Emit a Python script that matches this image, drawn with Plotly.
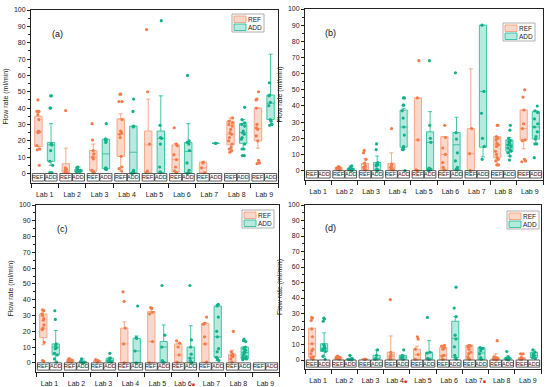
import plotly.graph_objects as go

# ---------------- data ----------------
lab_centers = [1, 2, 3, 4, 5, 6, 7, 8, 9]
lab_edges = [0.5, 1.5, 2.5, 3.5, 4.5, 5.5, 6.5, 7.5, 8.5, 9.5]
y_ticks = [0, 10, 20, 30, 40, 50, 60, 70, 80, 90, 100]
y_minor = [5, 15, 25, 35, 45, 55, 65, 75, 85, 95]
groups = ["REF", "ADD"]

RM = "<span style='color:#e3262b;font-size:5px'>■</span>"
labels_plain = ["Lab 1", "Lab 2", "Lab 3", "Lab 4", "Lab 5", "Lab 6", "Lab 7", "Lab 8", "Lab 9"]
labels_c = ["Lab 1", "Lab 2", "Lab 3", "Lab 4", "Lab 5", "Lab 6" + RM, "Lab 7", "Lab 8", "Lab 9"]
labels_d = ["Lab 1", "Lab 2", "Lab 3", "Lab 4" + RM, "Lab 5", "Lab 6", "Lab 7" + RM, "Lab 8", "Lab 9"]

# stats per lab: (lower whisker, q1, median, q3, upper whisker)
a_ref_stats = [(14.5, 16.5, 25.5, 35, 38), (0, 0.5, 2, 6, 15.5), (0.5, 1.5, 10, 14, 18),
               (1.5, 10.5, 24, 33.5, 36.5), (0, 0.5, 17.5, 26, 45.5), (0, 1, 8.5, 17.5, 18.5),
               (0, 0.5, 3.5, 7, 7), (13, 17.5, 24, 32, 34), (15.5, 20, 27.5, 40, 40)]
a_ref_pts = [[45, 38, 38, 36, 33, 26, 25.5, 25, 17, 15, 14.5, 5], [38.5, 3.5, 3, 2.5, 2, 1, 0.5],
             [30.5, 20.5, 14, 12, 10, 9, 2, 1.5, 1, 0.5, 0.5],
             [48.5, 48.5, 44, 44, 33, 26, 25, 24, 22, 10.5, 4, 3, 1.5], [88, 50, 18, 1.5, 0.5],
             [28, 18, 17, 11.5, 8.5, 4, 1.5, 0.5], [7, 6.5, 3.5, 0.5],
             [34, 32, 31, 30, 29, 27, 25, 24, 22, 20, 18, 16, 15, 14, 13],
             [50, 45.5, 45, 40, 30, 28, 27, 23, 20, 8, 6.5, 6]]
a_add_stats = [(5, 7.5, 17.5, 19, 30.5), (0.5, 1, 1.5, 2.5, 4), (2.5, 3, 12, 21, 21),
               (0, 0.5, 13, 29, 29), (0, 0.5, 21.5, 26, 47.5), (0, 0.5, 13.5, 19, 30.5),
               (18.5, 18.5, 18.5, 18.5, 18.5), (15, 18.5, 25, 30.5, 33), (29.5, 33, 43, 48, 73)]
a_add_pts = [[47.5, 47.5, 40, 40, 18, 18, 17.5, 14, 7.5, 5, 0.5, 0.5], [4, 3.5, 2, 2, 1.5, 1, 1],
             [30.5, 21, 21, 20.5, 20, 19, 3.5, 3, 3, 3, 2.5, 2.5],
             [45.5, 38, 29, 28.5, 2, 1, 1, 0.5, 0.5, 0], [93.5, 29.5, 22, 21.5, 18, 4, 1, 0.5],
             [60, 20, 19, 18, 14, 6.5, 2, 0.5, 0], [18.5, 18.5],
             [40.5, 33, 31, 30, 29, 26, 25, 24, 22, 21, 18, 15, 15, 11, 11],
             [55.5, 48, 47.5, 43.5, 41.5, 33, 32, 30, 29.5]]

b_ref_stats = [None, (0, 0.5, 1, 2, 2.5), (0, 0.5, 2, 4.5, 7.5), (0, 0.5, 2, 4.5, 11),
               (0, 0, 19, 45, 45), (0, 0.5, 10, 21, 21), (0, 0, 10.5, 26, 63),
               (3.5, 8, 16, 21, 21), (13.5, 19, 26, 37.5, 37.5)]
b_ref_pts = [[], [2.5, 2, 1.5, 1.5, 1, 1, 0.5], [12.5, 11, 7, 4.5, 3, 2, 1, 0.5],
             [26, 4, 3, 2.5, 2, 1, 0.5], [68, 45, 19, 0.5, 0], [28, 20.5, 14, 10, 5, 2, 0.5],
             [26, 10.5, 0], [28, 28, 21, 20, 19, 17, 16, 15, 12, 10, 8, 7, 6, 3.5, 3.5],
             [50, 45.5, 37.5, 29, 26, 19, 18.5, 7, 6, 5.5]]
b_add_stats = [None, (0, 0.5, 1, 1.5, 3), (0, 0.5, 3.5, 5, 9), (13, 14.5, 27, 37.5, 38.5),
               (0, 0.5, 17.5, 24, 36.5), (0, 0.5, 16, 23.5, 33), (8.5, 14.5, 49, 90, 90),
               (9, 12, 16, 19, 20.5), (16.5, 19.5, 27, 36.5, 37)]
b_add_pts = [[], [3, 2, 1, 1, 0.5, 0], [16.5, 13, 5, 4, 3.5, 3, 1, 0.5, 0],
             [45, 45, 40.5, 40.5, 37, 32.5, 27, 22, 15, 14, 13, 13, 0],
             [68, 28, 20, 17.5, 1.5, 1, 0.5, 0], [60.5, 23.5, 19.5, 11, 6, 2, 1, 0.5],
             [90, 49, 35.5, 20, 15, 7],
             [28, 25, 20, 18.5, 18, 17, 16, 16, 15, 14, 13, 12, 11, 9, 6.5],
             [40, 37, 36, 32, 29, 27, 24, 21, 19.5, 16.5, 16.5, 8]]

c_ref_stats = [(11.5, 16, 21.5, 31, 33.5), (0.5, 0.5, 1.5, 2, 2.5), (0.5, 0.5, 1, 1.5, 2),
               (0, 0, 12, 22, 26), (0, 0, 13.5, 32.5, 35), (0, 0.5, 5, 12, 12.5),
               (0, 0.5, 12, 25, 25.5), (0.5, 0.5, 4.5, 5.5, 8), None]
c_ref_pts = [[33.5, 33, 31, 30, 28, 27, 24, 22, 21, 13, 1.5, 1], [2.5, 2.5, 2, 1.5, 1.5, 1, 0.5],
             [2, 1.5, 1.5, 1, 0.5], [45, 39, 22, 12, 0], [35, 34.5, 32, 31, 13.5, 0],
             [14, 12.5, 10, 5, 0.5], [29, 25, 24.5, 16.5, 12, 0.5],
             [20, 7, 5.5, 5, 4.5, 4, 2.5, 0.5], []]
c_add_stats = [(0.5, 5, 10, 12, 20.5), (0, 0, 0.5, 1, 2.5), (0.5, 0.5, 1.5, 3, 3.5),
               (0, 0, 7.5, 15.5, 17), (0, 0.5, 10, 13.5, 24), (0, 0.5, 3, 10, 23.5),
               (1.5, 3.5, 16.5, 36, 37), (2, 2.5, 6.5, 10, 10), None]
c_add_pts = [[33, 27.5, 12, 11, 9.5, 9, 6, 5, 2.5, 0.5], [2.5, 1, 0.5, 0.5, 0],
             [6, 3, 2.5, 2, 1.5, 1, 0.5], [36, 16, 15.5, 7.5, 0], [49, 17.5, 10, 1.5, 0.5],
             [49, 14.5, 10, 5.5, 3, 1.5, 0.5, 0],
             [37, 36.5, 36, 29, 20, 16.5, 9, 7, 3.5, 3, 2, 1.5],
             [15, 14, 13.5, 10, 9, 8, 7, 6.5, 6, 5, 4, 3.5, 3, 2.5, 2], []]

d_ref_stats = [(0.5, 2, 10.5, 20.5, 20.5), (0.5, 0.5, 1.5, 2, 2.5), (0.5, 0.5, 0.5, 0.5, 0.5),
               (0.5, 0.5, 2.5, 5, 15.5), (0, 0.5, 3.5, 7, 9), (0, 0.5, 3, 8, 8.5),
               (0, 0.5, 5, 9.5, 9.5), (0, 0, 1, 1.5, 4), (0.5, 0.5, 1, 1.5, 4)]
d_ref_pts = [[27.5, 27, 25.5, 20, 15, 10.5, 7, 6, 4, 2, 1.5, 0.5], [2.5, 2, 2, 1.5, 1, 1, 0.5],
             [0.5, 0.5, 0.5], [39, 5, 3.5, 2.5, 2, 1, 0.5], [15, 13.5, 7, 3.5, 0.5],
             [9.5, 9, 8, 7, 3, 2.5, 0.5], [9.5, 9, 9, 8.5, 7, 5, 4, 2, 1, 0.5],
             [12.5, 2, 1.5, 1, 0.5, 0], [4, 4, 1.5, 1, 0.5, 0.5]]
d_add_stats = [(2, 5.5, 7.5, 10.5, 17.5), (0, 0, 0.5, 1, 3), (0, 0.5, 1, 3, 6.5),
               (0, 0.5, 1.5, 3, 3), (0, 0.5, 1, 5, 12.5), (0.5, 1.5, 14, 25, 28),
               (0, 0.5, 4.5, 8, 8), (0, 0.5, 1, 1.5, 2.5), (1, 1.5, 3, 5, 6.5)]
d_add_pts = [[27, 26.5, 25, 10, 9, 8, 7.5, 7, 6.5, 5.5, 2.5, 0.5], [3, 1, 0.5, 0.5, 0],
             [6.5, 3, 1, 0.5], [6.5, 3, 2.5, 1.5, 1, 0.5], [27.5, 5, 4.5, 1, 0.5],
             [47, 33.5, 28, 16, 13.5, 8.5, 3, 1.5, 0.5], [8, 7.5, 7.5, 6, 4, 1.5, 0.5],
             [5.5, 2, 1.5, 1, 1, 0.5, 0.5, 0], [6.5, 5, 4, 3, 2.5, 1.5, 1]]

# ---------------- styling ----------------
W, H = 550, 387
FONT = "Arial, Liberation Sans, sans-serif"
STYLE = {
    "REF": dict(off=-0.23, fill="rgba(249,160,128,0.42)", line="#f4a07e", pt="#f47b4a"),
    "ADD": dict(off=0.23, fill="rgba(32,190,155,0.33)", line="#2dbf9c", pt="#14b08b"),
}
YMIN = -5.8


def px_x(v):
    return v / W


def px_y(v):
    return 1 - v / H


panels = [
    dict(name="(a)", ref=(a_ref_stats, a_ref_pts), add=(a_add_stats, a_add_pts), tt=labels_plain,
         box=(31, 10, 278, 183), leg=(232, 14)),
    dict(name="(b)", ref=(b_ref_stats, b_ref_pts), add=(b_add_stats, b_add_pts), tt=labels_plain,
         box=(305, 9, 543, 180), leg=(503, 23)),
    dict(name="(c)", ref=(c_ref_stats, c_ref_pts), add=(c_add_stats, c_add_pts), tt=labels_c,
         box=(36, 205, 279, 372), leg=(242, 210)),
    dict(name="(d)", ref=(d_ref_stats, d_ref_pts), add=(d_add_stats, d_add_pts), tt=labels_d,
         box=(305, 205, 541, 369), leg=(507, 211)),
]

fig = go.Figure()
layout = dict(width=W, height=H, margin=dict(l=0, r=0, t=0, b=0, autoexpand=False),
              paper_bgcolor="white", plot_bgcolor="white", boxmode="overlay", showlegend=False,
              font=dict(family=FONT, size=7, color="#222"), shapes=[], annotations=[])

for i, p in enumerate(panels, start=1):
    sfx = "" if i == 1 else str(i)
    xa, ya = "x" + sfx, "y" + sfx
    x0p, y0p, x1p, y1p = p["box"]
    for grp, (stats, pts) in zip(groups, [p["ref"], p["add"]]):
        st = STYLE[grp]
        xs, lo, q1, md, q3, hi = [], [], [], [], [], []
        px, py = [], []
        for k, c in enumerate(lab_centers):
            pos = c + st["off"]
            if stats[k] is not None:
                xs.append(pos)
                lo.append(stats[k][0]); q1.append(stats[k][1]); md.append(stats[k][2])
                q3.append(stats[k][3]); hi.append(stats[k][4])
            for v in pts[k]:
                px.append(pos); py.append(v)
        fig.add_trace(go.Box(x=xs, q1=q1, median=md, q3=q3, lowerfence=lo, upperfence=hi,
                             name=grp, xaxis=xa, yaxis=ya, width=0.27,
                             whiskerwidth=0.55, fillcolor=st["fill"],
                             line=dict(color=st["line"], width=0.9), boxpoints=False))
        fig.add_trace(go.Box(x=px, y=py, name=grp, xaxis=xa, yaxis=ya, width=0.27,
                             boxpoints="all", jitter=0.55, pointpos=0,
                             fillcolor="rgba(0,0,0,0)", line=dict(color="rgba(0,0,0,0)", width=0),
                             marker=dict(color=st["pt"], size=3.2)))
        # REF / ADD table cells under each box
        for c in lab_centers:
            pos = c + st["off"]
            layout["shapes"].append(dict(type="rect", xref=xa, yref=ya, x0=pos - 0.22, x1=pos + 0.22,
                                         y0=YMIN + 1.2, y1=0, line=dict(color="#333", width=0.8)))
            layout["annotations"].append(dict(xref=xa, yref=ya, x=pos, y=(YMIN + 1.2) / 2, text=grp,
                                              showarrow=False, font=dict(size=5.5, color="#222")))

    layout["xaxis" + sfx] = dict(domain=[px_x(x0p), px_x(x1p)], anchor=ya, range=[0.5, 9.5],
                                 automargin=False, tickmode="array",
                                 tickvals=lab_centers, ticktext=p["tt"], ticks="outside", ticklen=5,
                                 tickcolor="rgba(0,0,0,0)", showline=True, linecolor="#222",
                                 linewidth=1, mirror=True, showgrid=False, zeroline=False,
                                 tickfont=dict(size=7, color="#222"),
                                 minor=dict(tickmode="array", tickvals=lab_edges, ticks="outside",
                                            ticklen=4, tickcolor="#222", showgrid=False))
    layout["yaxis" + sfx] = dict(domain=[px_y(y1p), px_y(y0p)], anchor=xa, range=[YMIN, 100],
                                 automargin=False, tickmode="array",
                                 tickvals=y_ticks, ticks="outside", ticklen=3, tickcolor="#222",
                                 showline=True, linecolor="#222", linewidth=1, mirror=True,
                                 showgrid=False, zeroline=False, tickfont=dict(size=7, color="#222"),
                                 title=dict(text="Flow rate (ml/min)", font=dict(size=7), standoff=4),
                                 minor=dict(tickmode="array", tickvals=y_minor, ticks="outside",
                                            ticklen=2, tickcolor="#222", showgrid=False))
    # panel letter
    layout["annotations"].append(dict(xref=xa + " domain", yref=ya + " domain", x=0.077, y=0.9,
                                      text=p["name"], showarrow=False, font=dict(size=9, color="#111")))
    # legend drawn as a framed key
    lx, ly = p["leg"]
    layout["shapes"].append(dict(type="rect", xref="paper", yref="paper", x0=px_x(lx), x1=px_x(lx + 32),
                                 y0=px_y(ly + 18), y1=px_y(ly), line=dict(color="#999", width=0.8),
                                 fillcolor="white", layer="above"))
    for j, grp in enumerate(groups):
        st = STYLE[grp]
        top = ly + 2 + j * 8
        layout["shapes"].append(dict(type="rect", xref="paper", yref="paper", x0=px_x(lx + 2),
                                     x1=px_x(lx + 14), y0=px_y(top + 6.5), y1=px_y(top),
                                     line=dict(color=st["line"], width=0.9), fillcolor=st["fill"],
                                     layer="above"))
        layout["annotations"].append(dict(xref="paper", yref="paper", x=px_x(lx + 14),
                                          y=px_y(top + 3.3), xanchor="left", yanchor="middle",
                                          text=grp, showarrow=False, font=dict(size=6.5, color="#222")))

fig.update_layout(**layout)
fig.write_html("out.html", config={"displayModeBar": False},
               post_script="document.body.style.margin='0';document.body.style.overflow='hidden';")
